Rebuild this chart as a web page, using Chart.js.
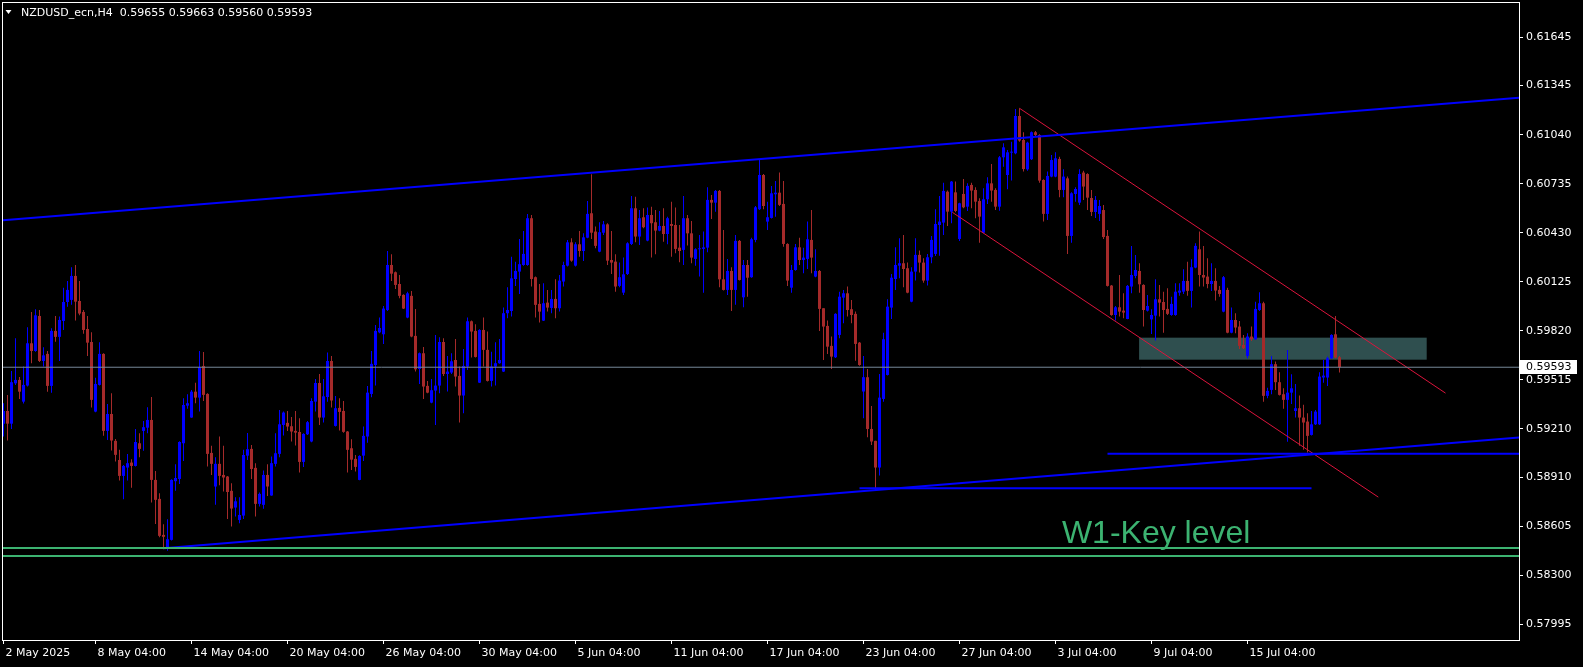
<!DOCTYPE html>
<html lang="en">
<head>
<meta charset="UTF-8">
<title>NZDUSD_ecn,H4</title>
<script src="https://cdn.jsdelivr.net/npm/chart.js@4.4.1/dist/chart.umd.min.js"></script>
<style>
  body { margin: 0; padding: 0; background: #000; }
  canvas { display: block; }
</style>
</head>
<body>
<canvas id="chart" width="1583" height="667"></canvas>
<script>
// H4 quotes, in 1e-5 units (59593 = 0.59593), one entry per bar from 2 May 2025
const opens = [
  59242,59321,59242,59493,59514,59379,59479,59742,59694,59912,59632,59676,59477,59819,59782,59881,59999,60012,60161,60005,59937,59831,59750,59317,59483,59676,59197,59302,59135,59016,58917,58969,59000,58979,
  59120,59197,59217,59265,58892,58774,58550,58463,58519,58884,58898,59120,59354,59280,59441,59404,59601,59427,59060,58851,58992,58923,58913,58824,58720,58643,58670,59043,59085,58967,58743,58737,58923,58795,
  58992,59054,59234,59247,59226,59197,59190,59004,59176,59131,59379,59495,59280,59408,59632,59228,59340,59321,59193,59089,59023,58892,59043,59162,59427,59607,59810,59798,59949,60229,60184,60111,60043,59902,
  60037,59788,59582,59680,59477,59373,59448,59479,59750,59551,59560,59638,59539,59417,59597,59879,59819,59497,59825,59701,59508,59597,59618,59566,59929,59943,60142,60188,60229,60229,60520,60153,59987,59883,
  59995,59962,60018,59960,60126,60225,60370,60225,60358,60316,60399,60551,60437,60312,60430,60482,60260,60250,60099,60057,60173,60360,60582,60406,60526,60381,60540,60495,60443,60472,60422,60484,60478,60337,
  60323,60520,60426,60267,60327,60329,60337,60634,60617,60690,60140,60074,60192,60074,60379,60028,60229,60153,60385,60576,60789,60499,60522,60669,60679,60609,60360,60088,60198,60339,60260,60267,60385,60157,
  60192,59960,59850,59726,59655,59794,60026,60053,59954,59925,59746,59442,59531,59209,59135,58969,59396,59545,59964,60142,60225,60240,60209,60001,60188,60292,60244,60132,60277,60298,60478,60493,60685,60561,
  60681,60391,60671,60592,60727,60696,60627,60430,60638,60737,60696,60592,60899,60789,60928,60924,61156,61007,60824,60887,61055,61038,60758,60547,60779,60779,60889,60696,60768,60410,60671,60617,60804,60795,
  60646,60559,60547,60571,60410,60101,59918,59966,59945,59893,60095,60161,60192,60105,59945,59891,59914,60016,59999,59956,59918,59918,60057,60063,60130,60068,60213,60327,60167,60157,60111,60130,60074,59939,
  60074,59808,59887,59846,59732,59663,59784,59767,59949,59991,59415,59452,59612,59500,59425,59390,59435,59321,59338,59280,59255,59172,59238,59238,59529,59529,59649,59798,59655
];
const highs = [
  59369,59421,59570,59773,59533,59597,59842,59937,59954,59949,59717,59694,59835,59912,59908,60088,60130,60215,60229,60130,59949,59912,59811,59527,59748,59680,59365,59431,59147,59079,58985,59054,59021,59209,
  59182,59259,59344,59408,58948,58809,58616,58647,58896,58989,59132,59400,59425,59452,59497,59694,59688,59431,59104,59033,59162,59104,58917,58871,58784,58784,59079,59184,59110,58996,58813,58950,58989,59037,
  59182,59327,59317,59321,59284,59321,59276,59182,59259,59400,59520,59551,59520,59684,59663,59414,59400,59383,59197,59145,59047,59045,59224,59477,59694,59856,59902,59974,60316,60296,60188,60167,60047,60063,
  60068,59956,59684,59719,59508,59520,59794,59779,59773,59663,59680,59769,59597,59707,59902,59883,59860,59829,59902,59815,59690,59748,59769,59964,60090,60281,60250,60391,60441,60547,60540,60157,60111,60115,
  60074,60074,60140,60167,60250,60385,60395,60370,60441,60426,60627,60793,60468,60495,60503,60489,60441,60296,60244,60275,60370,60659,60654,60571,60582,60586,60592,60571,60565,60582,60530,60623,60586,60478,
  60659,60540,60503,60333,60416,60437,60712,60665,60696,60696,60447,60267,60215,60416,60385,60260,60260,60399,60596,60882,60795,60623,60721,60752,60804,60752,60364,60229,60360,60399,60337,60499,60571,60327,
  60198,59960,59883,59784,59929,60063,60074,60095,60012,59939,59750,59663,59582,59352,59135,59551,59808,60016,60173,60339,60395,60416,60244,60215,60395,60319,60271,60298,60410,60576,60659,60741,60692,60752,
  60748,60617,60764,60737,60741,60712,60644,60706,60775,60858,60706,60907,60986,60945,60996,61200,61204,61055,60996,61059,61063,61042,60762,60810,60914,60930,60903,60824,60779,60681,60712,60824,60816,60800,
  60696,60658,60634,60603,60447,60105,59974,60167,60053,60105,60348,60292,60240,60109,60043,59954,60140,60105,60063,60084,60032,60115,60115,60202,60250,60265,60364,60437,60348,60271,60240,60209,60099,60161,
  60088,59964,59929,59881,59794,59804,59846,60001,60059,60001,59466,59663,59628,59562,59462,59701,59549,59489,59417,59359,59307,59321,59327,59562,59638,59659,59798,59912,59663
];
const lows = [
  59162,59137,59209,59483,59396,59367,59473,59618,59690,59626,59597,59441,59435,59752,59632,59825,59970,59981,59883,59916,59802,59663,59342,59313,59479,59166,59141,59075,59006,58888,58772,58888,58844,58975,
  59033,59074,59182,58751,58618,58535,58461,58452,58515,58824,58867,59010,59334,59278,59369,59317,59383,58975,58923,58737,58859,58820,58649,58602,58664,58622,58649,59016,58898,58664,58726,58712,58792,58793,
  58975,59033,59168,59197,59131,59106,58938,58973,59172,59126,59317,59234,59249,59379,59342,59224,59199,59186,58938,58954,58944,58890,59010,59124,59406,59479,59804,59738,59943,60130,60080,60022,59956,59898,
  59779,59566,59489,59396,59431,59369,59234,59431,59539,59442,59551,59473,59249,59307,59576,59653,59653,59495,59597,59504,59473,59479,59614,59564,59898,59908,60099,60049,60225,60225,60095,59902,59871,59881,
  59939,59929,59898,59939,60095,60219,60250,60219,60281,60254,60395,60391,60333,60308,60416,60229,60173,60063,60090,60043,60167,60354,60370,60354,60457,60377,60275,60296,60439,60374,60358,60281,60302,60246,
  60229,60350,60240,60225,60157,60057,60308,60515,60561,60090,60070,60043,59943,59981,60132,59966,60032,60150,60370,60571,60576,60447,60518,60530,60596,60343,60099,60057,60194,60229,60178,60204,60178,60153,
  59819,59638,59676,59582,59651,59773,59867,59908,59867,59634,59603,59276,59157,59110,58830,58919,59379,59541,59893,60074,60146,60090,60053,59997,60132,60182,60119,60101,60240,60285,60287,60416,60472,60489,
  60557,60379,60582,60565,60582,60520,60368,60426,60609,60623,60571,60567,60841,60700,60754,60918,60996,60810,60816,60882,61032,60741,60499,60509,60775,60775,60650,60650,60298,60368,60623,60603,60634,60571,
  60534,60522,60503,60391,60095,59914,59883,59908,59898,59891,60053,60146,60057,59846,59939,59800,59759,59908,59808,59918,59914,59914,60037,60049,60037,59964,60209,60095,60095,60084,60068,60008,60032,59935,
  59804,59804,59804,59707,59707,59649,59757,59763,59943,59379,59400,59425,59452,59417,59334,59130,59365,59280,59104,59079,59062,59168,59234,59234,59497,59477,59645,59649,59560
];
const closes = [
  59321,59242,59500,59514,59441,59483,59742,59694,59916,59632,59667,59477,59819,59782,59887,59999,60074,60161,60001,59927,59825,59746,59390,59489,59676,59197,59302,59137,59048,58917,58979,58996,58979,59128,
  59085,59220,59265,58892,58768,58544,58538,58523,58892,58904,59128,59358,59369,59441,59404,59593,59421,59054,58992,58992,58917,58907,58817,58714,58759,58674,59047,59083,58960,58743,58805,58923,58851,58996,
  59058,59238,59311,59224,59193,59186,59004,59178,59251,59383,59495,59280,59412,59632,59386,59338,59315,59191,59079,59018,58973,59041,59166,59435,59614,59819,59837,59958,60229,60175,60105,60037,59958,60053,
  59784,59580,59680,59473,59435,59450,59479,59750,59551,59566,59630,59535,59417,59601,59879,59815,59657,59825,59701,59508,59597,59618,59638,59929,59949,60146,60192,60234,60298,60520,60142,59981,59939,59991,
  59964,60018,59960,60132,60229,60370,60256,60358,60316,60401,60547,60430,60348,60433,60482,60256,60244,60095,60153,60171,60364,60582,60406,60520,60464,60540,60489,60443,60472,60422,60520,60472,60329,60316,
  60520,60426,60275,60327,60333,60339,60634,60617,60690,60140,60074,60192,60074,60379,60136,60229,60150,60389,60588,60789,60596,60526,60675,60679,60603,60360,60132,60198,60339,60260,60275,60389,60275,60192,
  59956,59846,59721,59659,59925,60032,60053,59949,59918,59738,59607,59531,59209,59131,58969,59404,59767,59970,60150,60229,60240,60204,60057,60188,60292,60244,60132,60277,60385,60484,60499,60690,60561,60748,
  60565,60613,60588,60721,60692,60623,60530,60638,60737,60692,60592,60899,60961,60930,60934,61156,61003,60826,60990,61055,61038,60754,60547,60783,60882,60893,60696,60779,60410,60675,60702,60795,60717,60648,
  60559,60634,60596,60403,60099,59918,59966,59939,59933,60099,60167,60198,60109,59949,59974,59918,60016,59995,59949,59925,59987,60063,60070,60130,60068,60215,60348,60167,60151,60111,60130,60070,60049,60153,
  59808,59887,59840,59726,59711,59784,59767,59956,59991,59415,59446,59612,59500,59421,59390,59435,59462,59338,59280,59249,59166,59238,59317,59535,59541,59649,59794,59653,59593
];

// time axis: bar index of each label, and the label text
const timeTickBars = [0, 23, 47, 71, 95, 119, 143, 167, 191, 215, 239, 263, 287, 311];
const timeTickLabels = ['2 May 2025', '8 May 04:00', '14 May 04:00', '20 May 04:00', '26 May 04:00', '30 May 04:00',
  '5 Jun 04:00', '11 Jun 04:00', '17 Jun 04:00', '23 Jun 04:00', '27 Jun 04:00', '3 Jul 04:00', '9 Jul 04:00', '15 Jul 04:00'];
const priceTicks = [0.61645, 0.61345, 0.61040, 0.60735, 0.60430, 0.60125, 0.59820, 0.59515, 0.59210, 0.58910, 0.58605, 0.58300, 0.57995];

// drawn objects, as [bar index, price]
const upperTrend = [[-1, 0.60505], [380, 0.61272]];
const lowerTrend = [[40, 0.58467], [380, 0.59158]];
const lowLevel1 = [[214, 0.58840], [327, 0.58840]];
const lowLevel2 = [[276, 0.59055], [380, 0.59055]];
const channelTop = [[254, 0.61204], [360.5, 0.59432]];
const channelBottom = [[237.2, 0.60557], [343.7, 0.58785]];
const keyLevels = [0.58469, 0.58419];
const zone = { from: 283.9, to: 355.8, top: 0.59777, bottom: 0.59640 };
const keyLabel = { text: 'W1-Key level', bar: 264.6, price: 0.58500 };

const BULL = '#0000ff';
const BEAR = '#a52a2a';
const last = closes.length - 1;
const bid = closes[last] / 1e5;

Chart.defaults.font.family = '"DejaVu Sans", sans-serif';
Chart.defaults.font.size = 11;
Chart.defaults.color = '#ffffff';

const candleColors = opens.map((o, i) => closes[i] >= o ? BULL : BEAR);
const wickData = opens.map((o, i) => ({ x: i, y: [lows[i] / 1e5, highs[i] / 1e5] }));
const bodyData = opens.map((o, i) => ({ x: i, y: [o / 1e5, closes[i] / 1e5] }));

function pts(arr) { return arr.map(p => ({ x: p[0], y: p[1] })); }
function lineSet(data, color, width) {
  return { type: 'line', data: data, borderColor: color, borderWidth: width, pointRadius: 0,
           fill: false, tension: 0, clip: 0, order: 0 };
}
// keep the plot area exactly where the layout padding puts it
function noScalePadding(s) { s.paddingTop = 0; s.paddingBottom = 0; s.paddingLeft = 0; s.paddingRight = 0; }

const overlay = {
  id: 'overlay',
  beforeDatasetsDraw(chart) {
    const { ctx, chartArea: a, scales: { x, y } } = chart;
    ctx.save();
    ctx.beginPath();
    ctx.rect(a.left, a.top, a.width, a.height);
    ctx.clip();
    const x0 = x.getPixelForValue(zone.from), x1 = x.getPixelForValue(zone.to);
    const y0 = y.getPixelForValue(zone.top), y1 = y.getPixelForValue(zone.bottom);
    ctx.fillStyle = '#2f4f4f';
    ctx.fillRect(x0, y0, x1 - x0, y1 - y0);
    ctx.restore();
  },
  afterDatasetsDraw(chart) {
    const { ctx, scales: { x, y } } = chart;
    ctx.save();
    ctx.fillStyle = '#3cb371';
    ctx.font = '32px "Liberation Sans", Arial, sans-serif';
    ctx.textAlign = 'left';
    ctx.textBaseline = 'alphabetic';
    ctx.fillText(keyLabel.text, x.getPixelForValue(keyLabel.bar), y.getPixelForValue(keyLabel.price));
    ctx.restore();
  },
  afterDraw(chart) {
    const { ctx, chartArea: a, scales: { y } } = chart;
    ctx.save();
    // frame
    ctx.strokeStyle = '#ffffff';
    ctx.lineWidth = 1;
    ctx.strokeRect(a.left - 0.5, a.top - 0.5, a.right - a.left + 1, a.bottom - a.top + 1);
    // header
    ctx.fillStyle = '#ffffff';
    ctx.beginPath();
    ctx.moveTo(5.5, 10); ctx.lineTo(11.5, 10); ctx.lineTo(8.5, 14); ctx.closePath();
    ctx.fill();
    ctx.font = '11px "DejaVu Sans"';
    ctx.textBaseline = 'middle';
    ctx.textAlign = 'left';
    const f = v => (v / 1e5).toFixed(5);
    ctx.fillText('NZDUSD_ecn,H4  ' + f(opens[last]) + ' ' + f(highs[last]) + ' ' + f(lows[last]) + ' ' + f(closes[last]), 21, 13);
    // current price tag
    const py = Math.round(y.getPixelForValue(bid));
    ctx.fillStyle = '#ffffff';
    ctx.fillRect(a.right + 1, py - 7, 57, 14);
    ctx.fillStyle = '#000000';
    ctx.fillText(bid.toFixed(5), a.right + 7, py + 0.5);
    ctx.restore();
  }
};

const datasets = [
  { type: 'bar', label: 'wick', data: wickData, backgroundColor: candleColors, barThickness: 1,
    grouped: false, inflateAmount: 0, borderWidth: 0, order: 2 },
  { type: 'bar', label: 'body', data: bodyData, backgroundColor: candleColors, barThickness: 3,
    minBarLength: 1, grouped: false, inflateAmount: 0, borderWidth: 0, order: 1 },
  lineSet(pts([[-1, bid], [380, bid]]), '#778899', 1),
  lineSet(pts([[-1, keyLevels[0]], [380, keyLevels[0]]]), '#3cb371', 2),
  lineSet(pts([[-1, keyLevels[1]], [380, keyLevels[1]]]), '#3cb371', 2),
  lineSet(pts(upperTrend), '#0000ff', 2),
  lineSet(pts(lowerTrend), '#0000ff', 2),
  lineSet(pts(lowLevel1), '#0000ff', 2),
  lineSet(pts(lowLevel2), '#0000ff', 2),
  lineSet(pts(channelTop), '#dc143c', 1),
  lineSet(pts(channelBottom), '#dc143c', 1)
];

new Chart(document.getElementById('chart').getContext('2d'), {
  type: 'bar',
  data: { datasets: datasets },
  options: {
    responsive: false,
    devicePixelRatio: 1,
    animation: false,
    events: [],
    layout: { padding: { left: 3, top: 3, right: 0, bottom: 0 } },
    plugins: { legend: { display: false }, tooltip: { enabled: false } },
    scales: {
      x: {
        type: 'linear',
        min: -0.125,
        max: 378.875,
        offset: false,
        bounds: 'data',
        grid: { display: true, offset: false, drawOnChartArea: false, drawTicks: true, tickLength: 4, color: '#ffffff' },
        border: { display: false },
        afterBuildTicks: s => { s.ticks = timeTickBars.map(v => ({ value: v })); },
        afterFit: s => { s.height = 27; noScalePadding(s); },
        ticks: {
          autoSkip: false, maxRotation: 0, minRotation: 0, align: 'start', labelOffset: 2, padding: 3,
          color: '#ffffff', font: { size: 11 },
          callback: (v, i) => timeTickLabels[i]
        }
      },
      y: {
        type: 'linear',
        position: 'right',
        min: 0.5789609,
        max: 0.6185901,
        beginAtZero: false,
        bounds: 'data',
        grid: { display: true, drawOnChartArea: false, drawTicks: true, tickLength: 4, color: '#ffffff' },
        border: { display: false },
        afterBuildTicks: s => { s.ticks = priceTicks.map(v => ({ value: v })); },
        afterFit: s => { s.width = 64; noScalePadding(s); },
        ticks: {
          autoSkip: false, padding: 3, color: '#ffffff', font: { size: 11 },
          callback: v => v.toFixed(5)
        }
      }
    }
  },
  plugins: [overlay]
});
</script>
</body>
</html>
